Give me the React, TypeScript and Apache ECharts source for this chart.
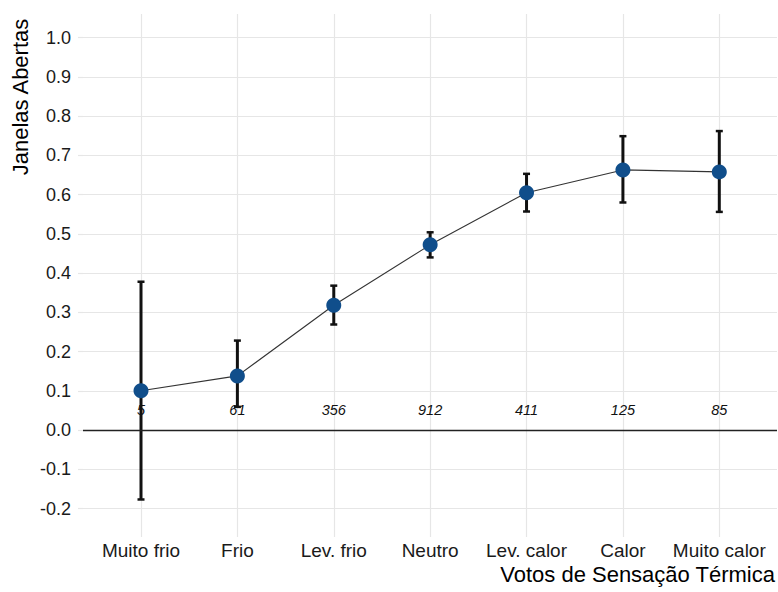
import React, { useEffect, useRef } from "react";
import * as echarts from "echarts";

const categories = ["Muito frio", "Frio", "Lev. frio", "Neutro", "Lev. calor", "Calor", "Muito calor"];
const means = [0.1, 0.138, 0.318, 0.472, 0.605, 0.663, 0.658];
const lower = [-0.177, 0.059, 0.269, 0.44, 0.557, 0.58, 0.556];
const upper = [0.378, 0.228, 0.368, 0.504, 0.653, 0.749, 0.762];
const counts = [5, 61, 356, 912, 411, 125, 85];
const yMin = -0.2;
const yMax = 1.0;
const yStep = 0.1;
const countLabelY = 0.05;

const FONT = "'Liberation Sans', Arial, sans-serif";
const GRID_COLOR = "#e6e6e6";

export default function App() {
  const ref = useRef<HTMLDivElement>(null);
  useEffect(() => {
    if (!ref.current) return;
    const chart = echarts.init(ref.current, null, { renderer: "svg" });
    const option: any = {
      animation: false,
      backgroundColor: "#ffffff",
      textStyle: { fontFamily: FONT },
      grid: [
        { left: 141, right: 58.7, top: 37.7, bottom: 83.5 },
        { left: 83, right: 1, top: 37.7, bottom: 83.5 },
        { left: 141, right: 58.7, top: 14, bottom: 55 },
      ],
      xAxis: [
        { gridIndex: 0, type: "category", data: categories, boundaryGap: false, show: false },
        { gridIndex: 1, type: "value", min: 0, max: 1, show: false },
        {
          gridIndex: 2,
          type: "category",
          data: categories,
          boundaryGap: false,
          axisLine: { show: false },
          axisTick: { show: false },
          splitLine: { show: true, interval: 0, lineStyle: { color: GRID_COLOR, width: 1.2 } },
          axisLabel: { interval: 0, fontSize: 19, color: "#1a1a1a", margin: 4, fontFamily: FONT },
        },
      ],
      yAxis: [
        { gridIndex: 0, type: "value", min: yMin, max: yMax, show: false },
        {
          gridIndex: 1,
          type: "value",
          min: yMin,
          max: yMax,
          interval: yStep,
          axisLine: { show: false },
          axisTick: { show: true, length: 5, lineStyle: { color: GRID_COLOR, width: 1.2 } },
          splitLine: { show: true, lineStyle: { color: GRID_COLOR, width: 1.2 } },
          axisLabel: {
            fontSize: 18,
            color: "#1a1a1a",
            margin: 12,
            fontFamily: FONT,
            formatter: (v: number) => (Math.abs(v) < 1e-9 ? "0.0" : v.toFixed(1)),
          },
        },
        { gridIndex: 2, type: "value", min: 0, max: 1, show: false },
      ],
      graphic: [
        {
          type: "text",
          x: 20,
          y: 97,
          rotation: Math.PI / 2,
          style: {
            text: "Janelas Abertas",
            fontSize: 22,
            fontFamily: FONT,
            fill: "#000",
            align: "center",
            verticalAlign: "middle",
          },
        },
        {
          type: "text",
          x: 775,
          y: 574,
          style: {
            text: "Votos de Sensação Térmica",
            fontSize: 22,
            fontFamily: FONT,
            fill: "#000",
            align: "right",
            verticalAlign: "middle",
          },
        },
      ],
      series: [
        {
          type: "line",
          xAxisIndex: 1,
          yAxisIndex: 1,
          data: [],
          silent: true,
          markLine: {
            silent: true,
            symbol: "none",
            label: { show: false },
            lineStyle: { color: "#222", width: 1.3, type: "solid" },
            data: [{ yAxis: 0 }],
          },
        },
        {
          type: "line",
          xAxisIndex: 0,
          yAxisIndex: 0,
          data: means,
          showSymbol: false,
          symbol: "none",
          lineStyle: { color: "#333", width: 1.1 },
          z: 2,
          silent: true,
        },
        {
          type: "custom",
          xAxisIndex: 0,
          yAxisIndex: 0,
          z: 3,
          silent: true,
          encode: { x: 0, y: [1, 2] },
          data: categories.map((_, i) => [i, lower[i], upper[i]]),
          renderItem: (params: any, api: any) => {
            const lo = api.coord([api.value(0), api.value(1)]);
            const hi = api.coord([api.value(0), api.value(2)]);
            const half = 3.5;
            const style = { stroke: "#111", lineWidth: 3 };
            const cap = { stroke: "#111", lineWidth: 2.5 };
            return {
              type: "group",
              children: [
                { type: "line", shape: { x1: lo[0], y1: lo[1], x2: hi[0], y2: hi[1] }, style },
                { type: "line", shape: { x1: lo[0] - half, y1: lo[1], x2: lo[0] + half, y2: lo[1] }, style: cap },
                { type: "line", shape: { x1: hi[0] - half, y1: hi[1], x2: hi[0] + half, y2: hi[1] }, style: cap },
              ],
            };
          },
        },
        {
          type: "scatter",
          xAxisIndex: 0,
          yAxisIndex: 0,
          data: means,
          symbol: "circle",
          symbolSize: 15,
          itemStyle: { color: "#104E8B", opacity: 1 },
          z: 4,
          silent: true,
        },
        {
          type: "scatter",
          xAxisIndex: 0,
          yAxisIndex: 0,
          data: categories.map((_, i) => [i, countLabelY, counts[i]]),
          symbolSize: 0,
          itemStyle: { color: "transparent", opacity: 1 },
          z: 5,
          silent: true,
          label: {
            show: true,
            position: "inside",
            formatter: (p: any) => String(p.value[2]),
            fontStyle: "italic",
            fontSize: 14.5,
            color: "#111",
            opacity: 1,
            fontFamily: FONT,
          },
        },
      ],
    };
    chart.setOption(option);
    return () => chart.dispose();
  }, []);
  return (
    <div
      ref={ref}
      style={{ position: "fixed", left: 0, top: 0, width: 778, height: 592, background: "#fff" }}
    />
  );
}
